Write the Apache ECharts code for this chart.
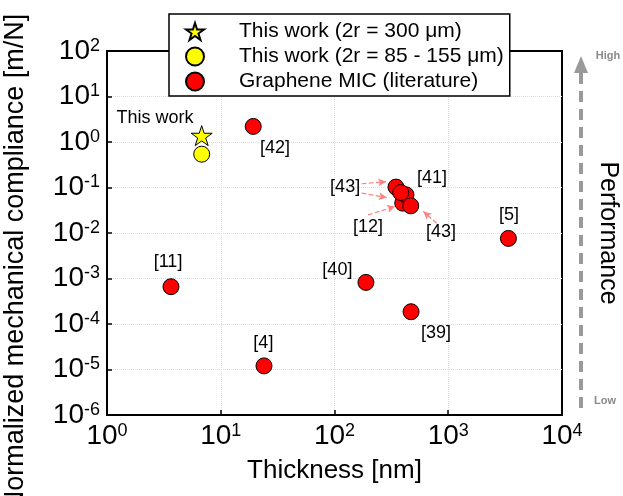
<!DOCTYPE html>
<html>
<head>
<meta charset="utf-8">
<script src="https://cdn.jsdelivr.net/npm/echarts@6/dist/echarts.min.js"></script>
<style>html,body{margin:0;padding:0;background:#fff;}#c{width:623px;height:496px;}</style>
</head>
<body>
<div id="c"></div>
<script>
// ---- data ----
const xRange = [1, 10000];           // thickness [nm]
const yRange = [1e-6, 100];          // compliance [m/N]
const thisWork300 = [[6.8, 1.38]];
const thisWork85 = [[6.8, 0.54]];
const literature = [
  [19.3, 2.2],     // [42]
  [398, 0.0453],   // cluster (hidden)
  [425, 0.069],    // [41]
  [347, 0.102],    // [43]
  [382, 0.0776],   // [43]
  [468, 0.0395],   // [12]/[43]
  [3380, 0.0076],  // [5]
  [3.65, 6.6e-4],  // [11]
  [189, 8.2e-4],   // [40]
  [471, 1.86e-4],  // [39]
  [24, 1.2e-5]     // [4]
];
const seriesNames = ['This work (2r = 300 μm)', 'This work (2r = 85 - 155 μm)', 'Graphene MIC (literature)'];
const annotations = [
  ['This work', 2.64, 3.43],
  ['[42]', 30, 0.745],
  ['[43]', 124, 0.1035],
  ['[41]', 720, 0.164],
  ['[12]', 197, 0.0136],
  ['[43]', 864, 0.0106],
  ['[5]', 3420, 0.025],
  ['[11]', 3.44, 2.3e-3],
  ['[40]', 106, 1.55e-3],
  ['[39]', 780, 6.4e-5],
  ['[4]', 23.7, 3.85e-5]
];
const arrows = [
  [[173, 0.121], [284, 0.134]],
  [[173, 0.0753], [288, 0.0602]],
  [[197, 0.025], [340, 0.0381]],
  [[791, 0.0164], [604, 0.0296]]
];
const xTitle = 'Thickness [nm]';
const yTitle = 'Normalized mechanical compliance [m/N]';

const starPath = 'path://M50 0 L61.2 34.5 L97.6 34.5 L68.2 55.9 L79.4 90.5 L50 69.1 L20.6 90.5 L31.8 55.9 L2.4 34.5 L38.8 34.5 Z';
const FONT = '"Liberation Sans", Arial, sans-serif';

function powLabel(v) {
  const e = Math.round(Math.log10(v));
  return '{b|10}{s|' + e + '}';
}
const richTick = {
  b: { fontSize: 28, lineHeight: 28, padding: [7, 0, 0, 0], verticalAlign: 'bottom', color: '#000', fontFamily: FONT },
  s: { fontSize: 18, lineHeight: 18, verticalAlign: 'top', color: '#000', fontFamily: FONT }
};

const chart = echarts.init(document.getElementById('c'), null, { renderer: 'canvas' });
chart.setOption({
  animation: false,
  backgroundColor: '#fff',
  textStyle: { fontFamily: FONT },
  grid: { left: 107, right: 61, top: 51, bottom: 81, show: true, borderColor: '#000', borderWidth: 2, backgroundColor: 'transparent' },
  xAxis: {
    type: 'log', logBase: 10, min: xRange[0], max: xRange[1], interval: 1,
    name: xTitle, nameLocation: 'middle', nameGap: 43,
    nameTextStyle: { fontSize: 26, color: '#000', fontFamily: FONT },
    axisLine: { lineStyle: { color: '#000', width: 2 } },
    axisTick: { inside: true, length: 5, lineStyle: { color: '#000', width: 1.5 } },
    minorTick: { show: false },
    splitLine: { show: true, showMinLine: false, showMaxLine: false, lineStyle: { color: '#ddd', type: 'dotted', width: 1 } },
    axisLabel: { margin: 7, formatter: powLabel, rich: richTick }
  },
  yAxis: {
    type: 'log', logBase: 10, min: yRange[0], max: yRange[1], interval: 1,
    axisLine: { lineStyle: { color: '#000', width: 2 } },
    axisTick: { inside: true, length: 5, lineStyle: { color: '#000', width: 1.5 } },
    splitLine: { show: true, showMinLine: false, showMaxLine: false, lineStyle: { color: '#ddd', type: 'dotted', width: 1 } },
    axisLabel: { margin: 7, formatter: powLabel, rich: richTick }
  },
  legend: {
    orient: 'vertical', left: 169, top: 14,
    padding: [7, 6, 4, 16], itemGap: 4, itemWidth: 18, itemHeight: 19,
    borderColor: '#000', borderWidth: 1.5, backgroundColor: '#fff',
    textStyle: { fontSize: 21, color: '#000', fontFamily: FONT, padding: [0, 0, 0, 30] },
    data: seriesNames, z: 10
  },
  series: [
    {
      name: seriesNames[2], type: 'scatter', data: literature, symbol: 'circle', symbolSize: 16,
      itemStyle: { color: '#ff0000', borderColor: '#000', borderWidth: 1, opacity: 1 },
      z: 3,
      markLine: {
        silent: true, symbol: ['none', 'arrow'], symbolSize: [6, 8], animation: false,
        label: { show: false },
        lineStyle: { color: '#ff8080', type: 'dashed', width: 1.2 },
        data: arrows.map(a => [{ coord: a[0] }, { coord: a[1] }])
      }
    },
    {
      name: seriesNames[1], type: 'scatter', data: thisWork85, symbol: 'circle', symbolSize: 16,
      itemStyle: { color: '#ffff00', borderColor: '#000', borderWidth: 1, opacity: 1 }, z: 3
    },
    {
      name: seriesNames[0], type: 'scatter', data: thisWork300, symbol: starPath, symbolSize: 21, symbolKeepAspect: true,
      itemStyle: { color: '#ffff00', borderColor: '#000', borderWidth: 1, opacity: 1 }, z: 4
    },
    {
      name: 'annotations', type: 'scatter', symbolSize: 0, silent: true,
      itemStyle: { opacity: 1 },
      data: annotations.map(a => ({ name: a[0], value: [a[1], a[2]] })),
      label: { show: true, position: 'inside', formatter: p => p.name, fontSize: 18, color: '#000', textBorderWidth: 0, textBorderColor: 'transparent', fontFamily: FONT },
      z: 5
    }
  ],
  graphic: [
    { type: 'polygon', shape: { points: [[574, 73], [588, 73], [581, 56]] }, style: { fill: '#9a9a9a' } },
    { type: 'line', shape: { x1: 581, y1: 73, x2: 581, y2: 408 }, style: { stroke: '#9a9a9a', lineWidth: 4, lineDash: [11, 7] } },
    { type: 'text', x: 608, y: 56, style: { text: 'High', font: 'bold 11px ' + FONT, fill: '#8a8a8a', textAlign: 'center', textVerticalAlign: 'middle' } },
    { type: 'text', x: 605, y: 401, style: { text: 'Low', font: 'bold 11px ' + FONT, fill: '#8a8a8a', textAlign: 'center', textVerticalAlign: 'middle' } },
    { type: 'text', x: 608, y: 233, rotation: -Math.PI / 2, style: { text: 'Performance', font: '25px ' + FONT, fill: '#000', textAlign: 'center', textVerticalAlign: 'middle' } },
    { type: 'text', x: 16, y: 262, rotation: Math.PI / 2, style: { text: yTitle, font: '27px ' + FONT, fill: '#000', textAlign: 'center', textVerticalAlign: 'middle' } }
  ]
});
</script>
</body>
</html>
